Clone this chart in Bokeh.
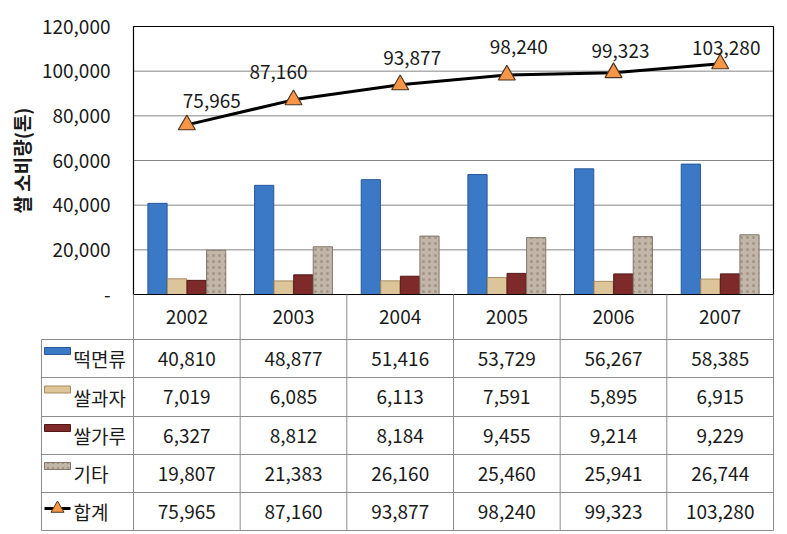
import math
from bokeh.plotting import figure
from bokeh.models import Range1d, ColumnDataSource
from bokeh.core.properties import value
from bokeh.embed import file_html
from bokeh.resources import INLINE

# ---------------- data ----------------
years = ["2002", "2003", "2004", "2005", "2006", "2007"]
series_names = ["떡면류", "쌀과자", "쌀가루", "기타"]
tteok = [40810, 48877, 51416, 53729, 56267, 58385]
snack = [7019, 6085, 6113, 7591, 5895, 6915]
flour = [6327, 8812, 8184, 9455, 9214, 9229]
other = [19807, 21383, 26160, 25460, 25941, 26744]
total_name = "합계"
total = [75965, 87160, 93877, 98240, 99323, 103280]
y_ticks = [0, 20000, 40000, 60000, 80000, 100000, 120000]
y_title = "쌀 소비량(톤)"

# ---------------- styles / layout ----------------
FONT = value("Noto Sans CJK KR")
FS = value("19px")
TXT = "#1a1a1a"
fills = ["#3b78c6", "#dcc599", "#7e2a2b", "#c2b6a8"]
lines = ["#27589a", "#a88d5f", "#521818", "#85776a"]
hatches = [None, "wave", None, "dot"]
hatch_cols = [None, "#b89a6a", None, "#8e7f70"]
offsets = [-0.275, -0.092, 0.092, 0.275]
bar_w = 0.18
lab_dx = [25, -15, 12, 12, 7, 6]
lab_dy = [-24, -28, -27, -28, -22, -16]

W_PAGE, H_PAGE = 787, 534
LEFT, RIGHT = 133, 773          # chart frame, px
TOP_PX, ZERO_PX = 26, 294       # y of top tick and of zero, px
n = len(years)
UNIT = (RIGHT - LEFT) / n
YMAX = y_ticks[-1]
SY = (ZERO_PX - TOP_PX) / YMAX  # px per data unit


def xd(px):
    return (px - LEFT) / UNIT


def yd(py):
    return (ZERO_PX - py) / SY


centers = [i + 0.5 for i in range(n)]
series = [tteok, snack, flour, other]

p = figure(width=W_PAGE, height=H_PAGE,
           x_range=Range1d(xd(0), xd(W_PAGE)), y_range=Range1d(yd(H_PAGE), yd(0)),
           output_backend="svg", toolbar_location=None,
           x_axis_location=None, y_axis_location=None, min_border=0)
p.outline_line_color = None
p.grid.visible = False
p.background_fill_color = "white"
p.border_fill_color = "white"

# ---------------- chart area ----------------
inner = [t for t in y_ticks if 0 < t < YMAX]
p.segment(x0=[0] * len(inner), x1=[n] * len(inner), y0=inner, y1=inner,
          line_color="#868686", line_width=1)

tick_txt = ["-" if t == 0 else f"{t:,}" for t in y_ticks]
p.text(x=[xd(110)] * len(y_ticks), y=y_ticks, text=tick_txt, text_align="right",
       text_baseline="middle", text_font=FONT, text_font_size=FS, text_color=TXT)
p.text(x=[xd(21)], y=[YMAX / 2], text=[y_title], angle=math.pi / 2, text_align="center",
       text_baseline="middle", text_font=FONT, text_font_size=FS, text_font_style="bold",
       text_color=TXT)

for k, vals in enumerate(series):
    src = ColumnDataSource(dict(x=[c + offsets[k] for c in centers], top=vals))
    kw = {}
    if hatches[k]:
        kw = dict(hatch_pattern=hatches[k], hatch_color=hatch_cols[k], hatch_alpha=0.6,
                  hatch_scale=6)
    p.vbar(x="x", top="top", bottom=0, width=bar_w, source=src, fill_color=fills[k],
           line_color=lines[k], line_width=1, **kw)

# chart border
p.quad(left=[0], right=[n], bottom=[0], top=[YMAX], fill_color=None,
       line_color="black", line_width=1.2)

tsrc = ColumnDataSource(dict(x=centers, y=total, lab=[f"{v:,}" for v in total],
                             dx=lab_dx, dy=lab_dy))
p.line(x="x", y="y", source=tsrc, line_color="black", line_width=3)
p.scatter(x="x", y="y", source=tsrc, marker="triangle", size=17,
          fill_color="#f79646", line_color="#4a3520", line_width=1.2)
p.text(x="x", y="y", text="lab", source=tsrc, x_offset="dx", y_offset="dy",
       text_align="center", text_baseline="middle", text_font=FONT,
       text_font_size=FS, text_color=TXT)

# ---------------- data table ----------------
row_px = [294, 339, 377, 416, 454, 492, 530]
TAB_L = 41
GRID = "#8c8c8c"
hy = [yd(v) for v in row_px[1:]]
p.segment(x0=[xd(TAB_L)] * len(hy), x1=[n] * len(hy), y0=hy, y1=hy,
          line_color=GRID, line_width=1)
vx = [xd(TAB_L)] + [float(i) for i in range(n + 1)]
vy0 = [yd(row_px[1])] + [0] * (n + 1)
p.segment(x0=vx, x1=vx, y0=vy0, y1=[yd(row_px[-1])] * len(vx), line_color=GRID, line_width=1)

row_c = [yd((row_px[i] + row_px[i + 1]) / 2) for i in range(len(row_px) - 1)]
txt = dict(text_font=FONT, text_font_size=FS, text_color=TXT, text_baseline="middle")
p.text(x=centers, y=[row_c[0]] * n, text=years, text_align="center", **txt)

all_rows = series + [total]
all_names = series_names + [total_name]
for r, vals in enumerate(all_rows):
    yc = row_c[r + 1]
    ycp = (row_px[r + 1] + row_px[r + 2]) / 2
    p.text(x=centers, y=[yc] * n, text=[f"{v:,}" for v in vals], text_align="center", **txt)
    p.text(x=[xd(73)], y=[yc], text=[all_names[r]], text_align="left", **txt)
    if r < len(series):
        kw = {}
        if hatches[r]:
            kw = dict(hatch_pattern=hatches[r], hatch_color=hatch_cols[r], hatch_alpha=0.6,
                      hatch_scale=5)
        p.quad(left=[xd(44)], right=[xd(70)], top=[yd(ycp - 11)], bottom=[yd(ycp - 4)],
               fill_color=fills[r], line_color=lines[r], line_width=1, **kw)
    else:
        p.line(x=[xd(44), xd(70)], y=[yd(ycp - 3)] * 2, line_color="black", line_width=3)
        p.scatter(x=[xd(57)], y=[yd(ycp - 3)], marker="triangle", size=13,
                  fill_color="#f79646", line_color="#4a3520", line_width=1)

open("out.html", "w").write(file_html(p, INLINE))
